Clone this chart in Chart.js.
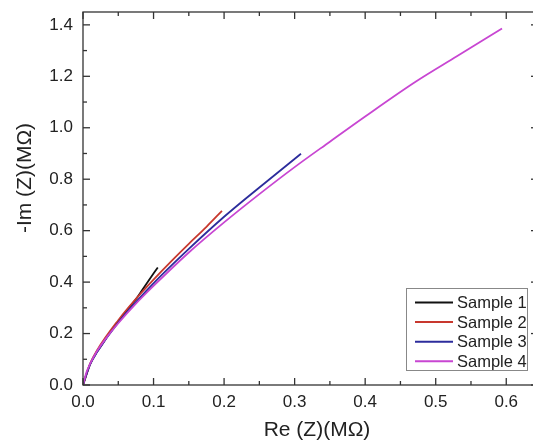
<!DOCTYPE html>
<html>
<head>
<meta charset="utf-8">
<script src="https://cdn.jsdelivr.net/npm/chart.js@4.4.0/dist/chart.umd.min.js"></script>
<style>
    html, body { margin: 0; padding: 0; background: #fff; overflow: hidden; }
    canvas { display: block; }
</style>
</head>
<body>
<canvas id="grafico-impedancia" width="545" height="441"></canvas>
<script>
const nomes = ["Sample 1", "Sample 2", "Sample 3", "Sample 4"];
const cores = ["#111111", "#c8382e", "#2c2c9c", "#c846d2"];

const s1X = [0, 0.01, 0.02, 0.03, 0.04, 0.05, 0.06, 0.075, 0.09, 0.106];
const s1Y = [0, 0.08, 0.13, 0.17, 0.21, 0.245, 0.282, 0.333, 0.394, 0.457];

const s2X = [0, 0.01, 0.02, 0.05, 0.075, 0.1, 0.125, 0.15, 0.175, 0.197];
const s2Y = [0, 0.082, 0.135, 0.252, 0.335, 0.41, 0.481, 0.549, 0.615, 0.677];

const s3X = [0, 0.01, 0.02, 0.05, 0.1, 0.15, 0.2, 0.25, 0.309];
const s3Y = [0, 0.08, 0.128, 0.243, 0.395, 0.529, 0.654, 0.768, 0.899];

const s4X = [0, 0.005, 0.01, 0.02, 0.035, 0.05, 0.075, 0.1, 0.15, 0.2, 0.25, 0.3, 0.35, 0.4, 0.472, 0.53, 0.594];
const s4Y = [0, 0.05, 0.082, 0.132, 0.19, 0.24, 0.316, 0.385, 0.515, 0.632, 0.742, 0.847, 0.946, 1.044, 1.18, 1.278, 1.386];

const xTicks = [0, 0.1, 0.2, 0.3, 0.4, 0.5, 0.6];
const yTicks = [0, 0.2, 0.4, 0.6, 0.8, 1.0, 1.2, 1.4];
const tituloX = "Re (Z)(MΩ)";
const tituloY = "-Im (Z)(MΩ)";

const todosX = [s1X, s2X, s3X, s4X];
const todosY = [s1Y, s2Y, s3Y, s4Y];

Chart.defaults.font.family = "'Liberation Sans', Arial, sans-serif";
Chart.defaults.color = "#222";

// moldura + ticks para dentro, nos quatro lados
const molduraPlugin = {
    id: 'moldura',
    afterDatasetsDraw(chart) {
        const { ctx, chartArea: a, scales } = chart;
        ctx.save();
        ctx.strokeStyle = '#333';
        ctx.lineWidth = 1.3;
        ctx.strokeRect(a.left, a.top, a.right - a.left, a.bottom - a.top);

        const tick = (x1, y1, x2, y2) => {
            ctx.beginPath(); ctx.moveTo(x1, y1); ctx.lineTo(x2, y2); ctx.stroke();
        };
        for (let i = 0; i < xTicks.length; i++) {
            let px = scales.x.getPixelForValue(xTicks[i]);
            tick(px, a.bottom, px, a.bottom - 7);
            tick(px, a.top, px, a.top + 7);
            let meio = xTicks[i] + 0.05;
            if (meio < scales.x.max) {
                let pm = scales.x.getPixelForValue(meio);
                tick(pm, a.bottom, pm, a.bottom - 4);
                tick(pm, a.top, pm, a.top + 4);
            }
        }
        for (let i = 0; i < yTicks.length; i++) {
            let py = scales.y.getPixelForValue(yTicks[i]);
            tick(a.left, py, a.left + 7, py);
            tick(a.right, py, a.right - 7, py);
            let meio = yTicks[i] + 0.1;
            if (meio < scales.y.max) {
                let pm = scales.y.getPixelForValue(meio);
                tick(a.left, pm, a.left + 4, pm);
                tick(a.right, pm, a.right - 4, pm);
            }
        }
        ctx.restore();
    }
};

// legenda dentro da área do gráfico, canto inferior direito
const legendaPlugin = {
    id: 'legendaInterna',
    afterDraw(chart) {
        const { ctx, chartArea: a } = chart;
        const left = a.right - 132, top = a.bottom - 97, w = 121, h = 82;
        ctx.save();
        ctx.fillStyle = '#fff';
        ctx.fillRect(left, top, w, h);
        ctx.strokeStyle = '#888';
        ctx.lineWidth = 1;
        ctx.strokeRect(left + 0.5, top + 0.5, w, h);
        ctx.font = "16.5px 'Liberation Sans', Arial, sans-serif";
        ctx.textBaseline = 'middle';
        chart.data.datasets.forEach((ds, i) => {
            let y = top + 14.5 + i * 19.6;
            ctx.strokeStyle = ds.borderColor;
            ctx.lineWidth = 2;
            ctx.beginPath(); ctx.moveTo(left + 9, y); ctx.lineTo(left + 47, y); ctx.stroke();
            ctx.fillStyle = '#222';
            ctx.fillText(ds.label, left + 51, y + 1);
        });
        ctx.restore();
    }
};

const titulosPlugin = {
    id: 'titulosEixos',
    afterDraw(chart) {
        const { ctx, chartArea: a } = chart;
        ctx.save();
        ctx.fillStyle = '#222';
        ctx.font = "21px 'Liberation Sans', Arial, sans-serif";
        ctx.textAlign = 'center';
        ctx.textBaseline = 'middle';
        ctx.fillText(tituloX, a.left + 234, a.bottom + 45);
        ctx.translate(25, a.top + 166);
        ctx.rotate(-Math.PI / 2);
        ctx.fillText(tituloY, 0, 0);
        ctx.restore();
    }
};

function renderizaGrafico() {
    const datasets = nomes.map((nome, i) => ({
        label: nome,
        data: todosX[i].map((x, j) => ({ x: x, y: todosY[i][j] })),
        borderColor: cores[i],
        borderWidth: 1.8,
        pointRadius: 0,
        cubicInterpolationMode: 'monotone',
        fill: false,
        order: nomes.length - i
    }));

    const semPadding = s => {
        s.paddingTop = 0; s.paddingBottom = 0;
        s.paddingLeft = 0; s.paddingRight = 0;
    };

    const config = {
        type: 'line',
        data: { datasets: datasets },
        options: {
            responsive: false,
            animation: false,
            devicePixelRatio: 1,
            layout: { padding: { top: 12, right: 7, left: 0, bottom: 0 } },
            plugins: {
                legend: { display: false },
                tooltip: { enabled: false }
            },
            scales: {
                x: {
                    type: 'linear',
                    min: 0,
                    max: 0.645,
                    afterFit: s => { s.height = 56; semPadding(s); },
                    afterBuildTicks: s => { s.ticks = xTicks.map(v => ({ value: v })); },
                    grid: { display: false, drawTicks: false },
                    border: { display: false },
                    ticks: {
                        padding: 7,
                        font: { size: 17 },
                        maxRotation: 0,
                        callback: v => v.toFixed(1)
                    }
                },
                y: {
                    type: 'linear',
                    min: 0,
                    max: 1.45,
                    afterFit: s => { s.width = 83; semPadding(s); },
                    afterBuildTicks: s => { s.ticks = yTicks.map(v => ({ value: v })); },
                    grid: { display: false, drawTicks: false },
                    border: { display: false },
                    ticks: {
                        padding: 10,
                        font: { size: 17 },
                        callback: v => v.toFixed(1)
                    }
                }
            }
        },
        plugins: [molduraPlugin, legendaPlugin, titulosPlugin]
    };

    new Chart(document.getElementById("grafico-impedancia"), config);
}

document.addEventListener("DOMContentLoaded", () => {
    renderizaGrafico();
});
</script>
</body>
</html>
